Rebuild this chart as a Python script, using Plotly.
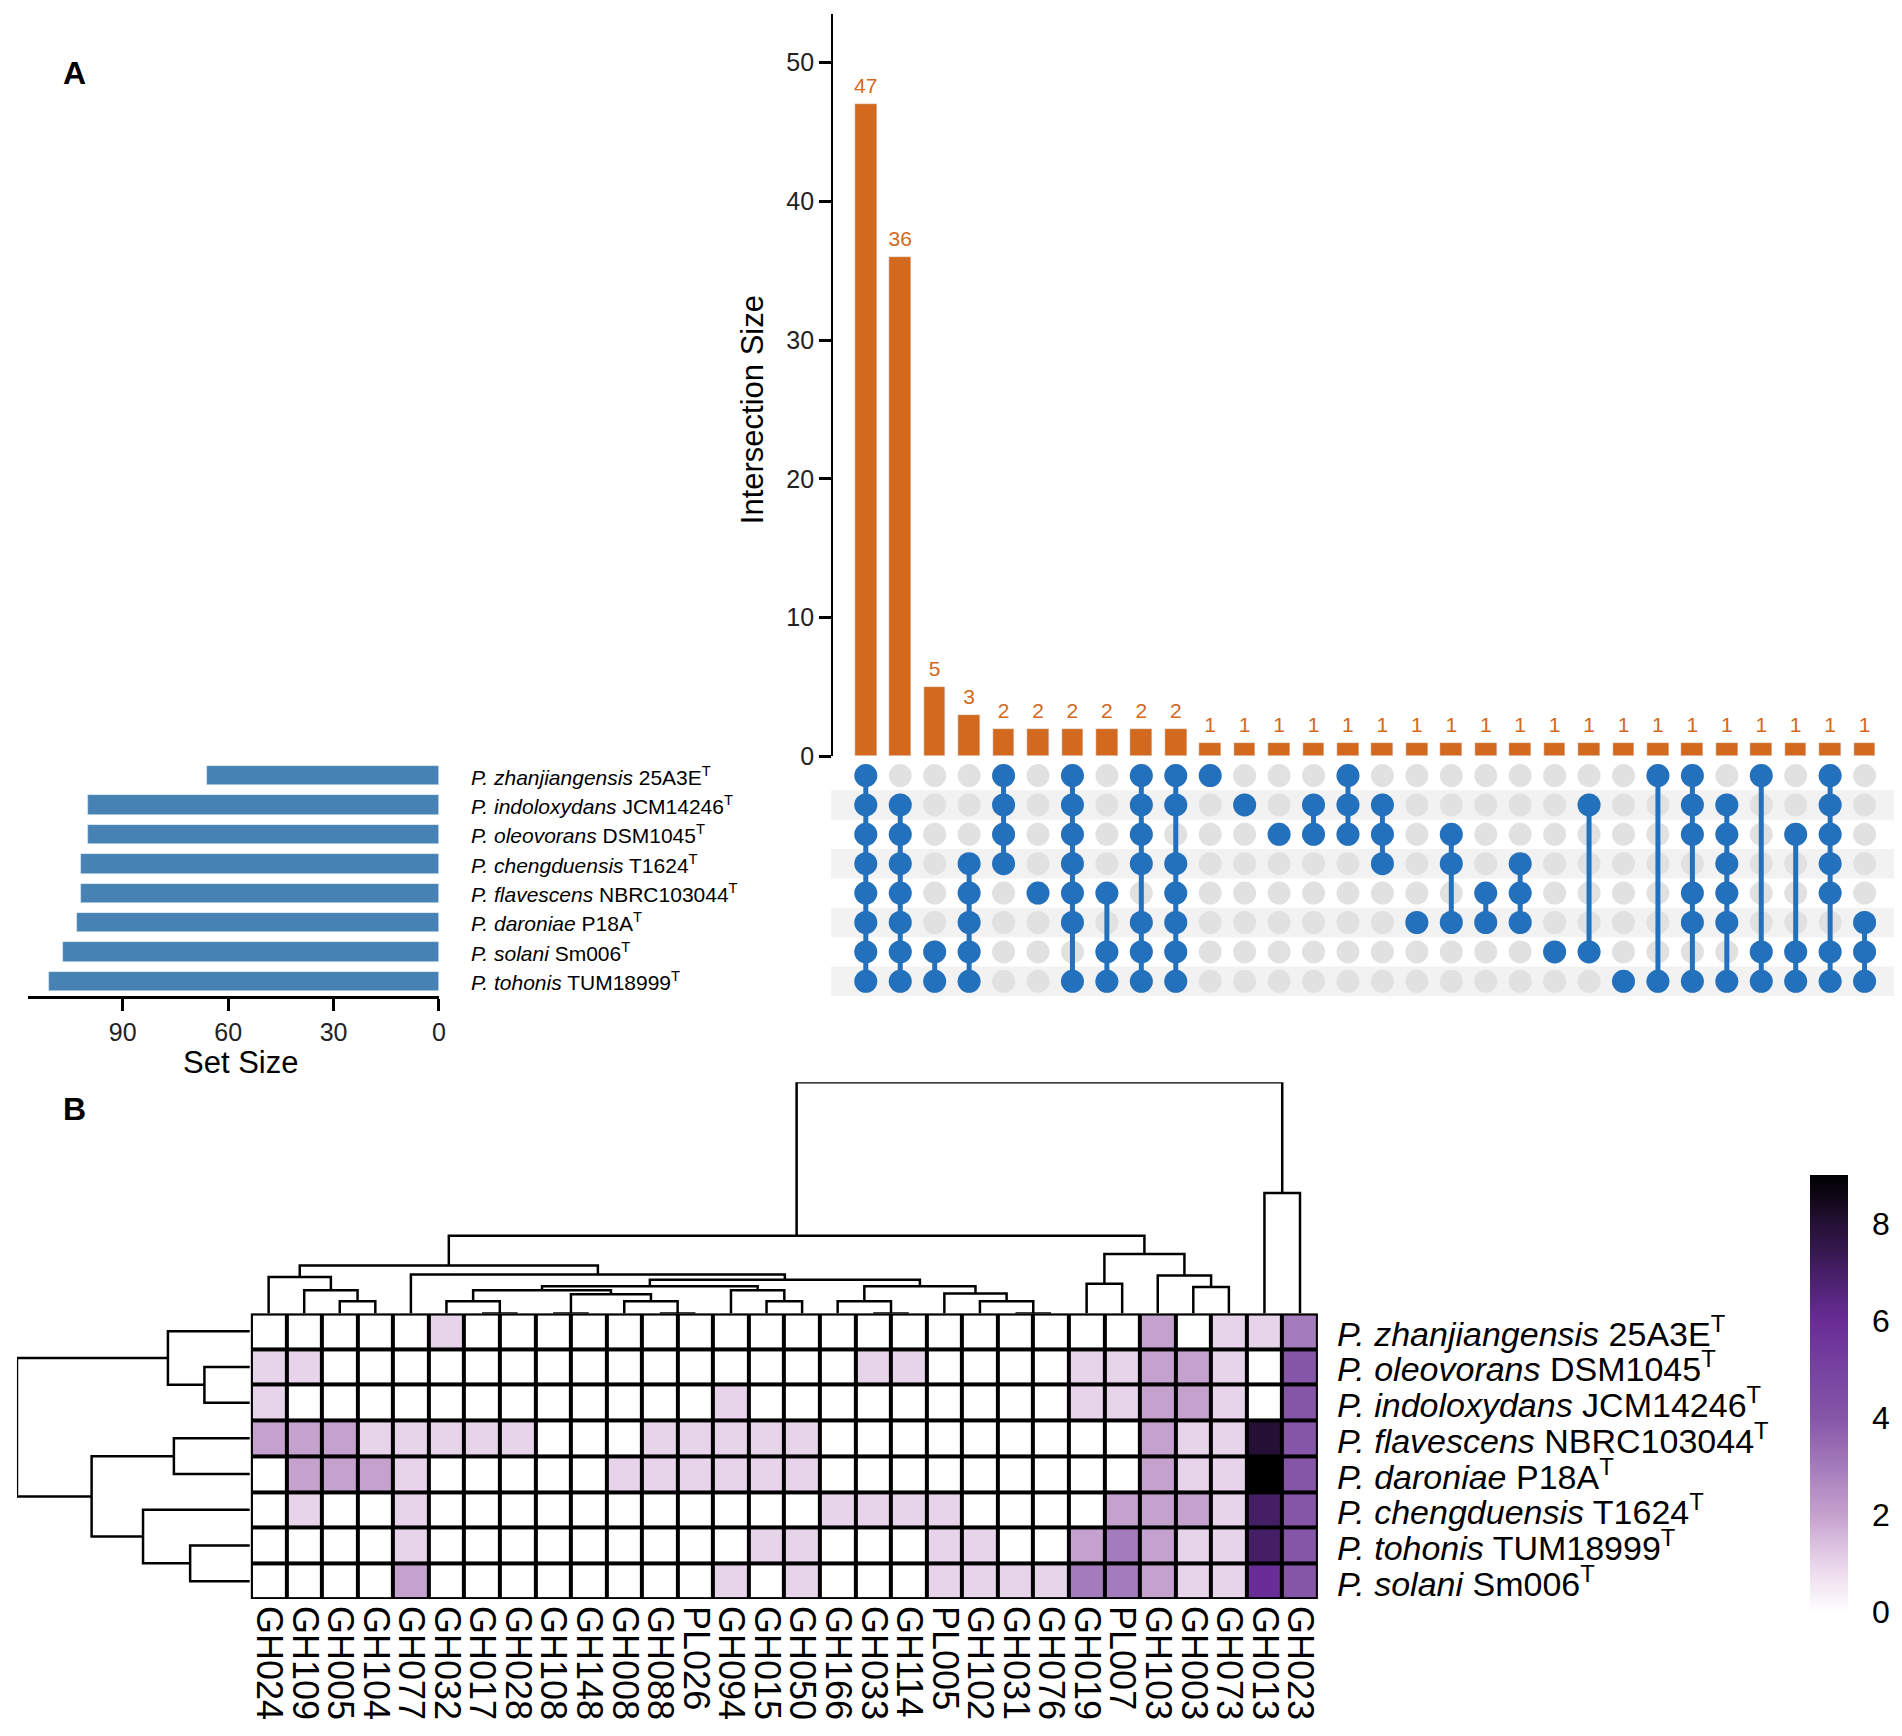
import plotly.graph_objects as go

W, H = 1902, 1736
FONT = "Liberation Sans, Arial, Helvetica, sans-serif"

def px(x):
    return x / W

def py(y):
    return 1 - y / H

# ---------------- data : panel A (UpSet) ----------------
strains = {
    "zhanjiangensis": "25A3E", "indoloxydans": "JCM14246", "oleovorans": "DSM1045",
    "chengduensis": "T1624", "flavescens": "NBRC103044", "daroniae": "P18A",
    "solani": "Sm006", "tohonis": "TUM18999",
}
upset_sets = ["zhanjiangensis", "indoloxydans", "oleovorans", "chengduensis",
              "flavescens", "daroniae", "solani", "tohonis"]
set_sizes = [66, 100, 100, 102, 102, 103, 107, 111]
intersection_sizes = [47, 36, 5, 3, 2, 2, 2, 2, 2, 2,
                      1, 1, 1, 1, 1, 1, 1, 1, 1, 1,
                      1, 1, 1, 1, 1, 1, 1, 1, 1, 1]
# membership pattern per intersection, rows in upset_sets order
intersection_members = [
    "11111111", "01111111", "00000011", "00011111", "11110000",
    "00001000", "11111101", "00001011", "11110111", "11011111",
    "10000000", "01000000", "00100000", "01100000", "11100000",
    "01110000", "00000100", "00110100", "00001100", "00011100",
    "00000010", "01000010", "00000001", "10000001", "11101101",
    "01111101", "10000011", "00100011", "11111011", "00000111",
]

# ---------------- data : panel B (heatmap) ----------------
heat_rows = ["zhanjiangensis", "oleovorans", "indoloxydans", "flavescens",
             "daroniae", "chengduensis", "tohonis", "solani"]
heat_cols = ["GH024", "GH109", "GH005", "GH104", "GH077", "GH032", "GH017", "GH028",
             "GH108", "GH148", "GH008", "GH088", "PL026", "GH094", "GH015", "GH050",
             "GH166", "GH033", "GH114", "PL005", "GH102", "GH031", "GH076", "GH019",
             "PL007", "GH103", "GH003", "GH073", "GH013", "GH023"]
# values per column, rows in heat_rows order
col_values = {
    "GH024": [0, 1, 1, 2, 0, 0, 0, 0], "GH109": [0, 1, 0, 2, 2, 1, 0, 0],
    "GH005": [0, 0, 0, 2, 2, 0, 0, 0], "GH104": [0, 0, 0, 1, 2, 0, 0, 0],
    "GH077": [0, 0, 0, 1, 1, 1, 1, 2], "GH032": [1, 0, 0, 1, 0, 0, 0, 0],
    "GH017": [0, 0, 0, 1, 0, 0, 0, 0], "GH028": [0, 0, 0, 1, 0, 0, 0, 0],
    "GH108": [0, 0, 0, 0, 0, 0, 0, 0], "GH148": [0, 0, 0, 0, 0, 0, 0, 0],
    "GH008": [0, 0, 0, 0, 1, 0, 0, 0], "GH088": [0, 0, 0, 1, 1, 0, 0, 0],
    "PL026": [0, 0, 0, 1, 1, 0, 0, 0], "GH094": [0, 0, 1, 1, 1, 0, 0, 1],
    "GH015": [0, 0, 0, 1, 1, 0, 1, 0], "GH050": [0, 0, 0, 1, 1, 0, 1, 1],
    "GH166": [0, 0, 0, 0, 0, 1, 0, 0], "GH033": [0, 1, 0, 0, 0, 1, 0, 0],
    "GH114": [0, 1, 0, 0, 0, 1, 0, 0], "PL005": [0, 0, 0, 0, 0, 1, 1, 1],
    "GH102": [0, 0, 0, 0, 0, 0, 1, 1], "GH031": [0, 0, 0, 0, 0, 0, 0, 1],
    "GH076": [0, 0, 0, 0, 0, 0, 0, 1], "GH019": [0, 1, 1, 0, 0, 0, 2, 3],
    "PL007": [0, 1, 1, 0, 0, 2, 3, 3], "GH103": [2, 2, 2, 2, 2, 2, 2, 2],
    "GH003": [0, 2, 2, 1, 1, 2, 1, 1], "GH073": [1, 1, 1, 1, 1, 1, 1, 1],
    "GH013": [1, 0, 0, 8, 9, 7, 7, 6], "GH023": [3, 4, 4, 4, 4, 4, 4, 4],
}
# dendrogram merges (a, b, height) ; "mK" refers to the K-th merge
col_merges = [
    ("GH017", "GH028", 0), ("GH108", "GH148", 0), ("GH088", "PL026", 0),
    ("GH033", "GH114", 0), ("GH031", "GH076", 0), ("GH005", "GH104", 37),
    ("GH032", "m0", 37), ("GH008", "m2", 37), ("GH015", "GH050", 37),
    ("GH166", "m3", 37), ("GH102", "m4", 37), ("m1", "m7", 58),
    ("PL005", "m10", 60), ("GH109", "m5", 70), ("m6", "m11", 70),
    ("GH094", "m8", 70), ("GH003", "GH073", 80), ("m14", "m15", 82),
    ("m9", "m12", 82), ("GH019", "PL007", 90), ("m17", "m18", 102),
    ("GH024", "m13", 110), ("GH103", "m16", 115), ("GH077", "m20", 118),
    ("m21", "m23", 145), ("m19", "m22", 180), ("m24", "m25", 235),
    ("GH013", "GH023", 365), ("m26", "m27", 700),
]
row_merges = [
    ("oleovorans", "indoloxydans", 137), ("zhanjiangensis", "m0", 247),
    ("flavescens", "daroniae", 229), ("tohonis", "solani", 180),
    ("chengduensis", "m3", 322), ("m2", "m4", 477), ("m1", "m5", 702),
]
color_ticks = [0, 2, 4, 6, 8]
z_max = 9

# ---------------- styling ----------------
BAR_ORANGE = "#D2691E"
DOT_BLUE = "#2370BC"
DOT_GREY = "#E1E1E1"
SET_BLUE = "#4682B4"
heat_scale = [
    [0.0, "#FFFFFF"], [1 / 9, "#E8D4EA"], [2 / 9, "#C5A1CD"], [3 / 9, "#A47BBB"],
    [4 / 9, "#8556A8"], [5 / 9, "#7642A0"], [6 / 9, "#6A2C96"], [7 / 9, "#451F66"],
    [8 / 9, "#241034"], [1.0, "#000000"],
]


def label_html(sp):
    return f"<i>P. {sp}</i> {strains[sp]}<sup>T</sup>"


def dendro_segments(leaves, merges):
    pos = {name: float(i) for i, name in enumerate(leaves)}
    hgt = {name: 0.0 for name in leaves}
    xs, ys = [], []
    for k, (a, b, h) in enumerate(merges):
        xa, xb = pos[a], pos[b]
        xs += [xa, xa, xb, xb, None]
        ys += [hgt[a], h, h, hgt[b], None]
        pos[f"m{k}"] = (xa + xb) / 2
        hgt[f"m{k}"] = h
    return xs, ys


fig = go.Figure()
shapes = []
annotations = []

n_int = len(intersection_sizes)
int_x = list(range(1, n_int + 1))
n_sets = len(upset_sets)

# --- intersection bars
fig.add_trace(go.Bar(x=int_x, y=intersection_sizes, marker_color=BAR_ORANGE,
                     width=0.63, xaxis="x", yaxis="y", hoverinfo="skip"))
fig.add_trace(go.Scatter(x=int_x, y=[v + 0.4 for v in intersection_sizes], mode="text",
                         text=[str(v) for v in intersection_sizes], textposition="top center",
                         textfont=dict(color=BAR_ORANGE, size=21, family=FONT),
                         xaxis="x", yaxis="y", cliponaxis=False, hoverinfo="skip"))

# --- matrix
for i in range(n_sets):
    if i % 2 == 1:
        shapes.append(dict(type="rect", xref="paper", yref="y2", x0=px(825), x1=px(1898),
                           y0=i - 0.5, y1=i + 0.5, fillcolor="#F2F2F2", line_width=0,
                           layer="below"))
gx, gy = [], []
bx, by = [], []
lx, ly = [], []
for c, pattern in enumerate(intersection_members):
    rows_in = [r for r, ch in enumerate(pattern) if ch == "1"]
    for r in range(n_sets):
        gx.append(c + 1)
        gy.append(r)
    for r in rows_in:
        bx.append(c + 1)
        by.append(r)
    if len(rows_in) > 1:
        lx += [c + 1, c + 1, None]
        ly += [min(rows_in), max(rows_in), None]
fig.add_trace(go.Scatter(x=gx, y=gy, mode="markers", xaxis="x2", yaxis="y2",
                         marker=dict(size=23, color=DOT_GREY), hoverinfo="skip", cliponaxis=False))
fig.add_trace(go.Scatter(x=lx, y=ly, mode="lines", xaxis="x2", yaxis="y2",
                         line=dict(color=DOT_BLUE, width=5), hoverinfo="skip"))
fig.add_trace(go.Scatter(x=bx, y=by, mode="markers", xaxis="x2", yaxis="y2",
                         marker=dict(size=23, color=DOT_BLUE), hoverinfo="skip", cliponaxis=False))

# --- set size bars
fig.add_trace(go.Bar(x=set_sizes, y=list(range(n_sets)), orientation="h", width=0.66,
                     marker_color=SET_BLUE, xaxis="x3", yaxis="y2", hoverinfo="skip"))
for i, sp in enumerate(upset_sets):
    annotations.append(dict(x=px(461), xref="paper", y=i, yref="y2", xanchor="left",
                            yanchor="middle", text=label_html(sp), showarrow=False,
                            font=dict(size=21, color="black", family=FONT)))

# --- heatmap
z = [[col_values[c][r] for c in heat_cols] for r in range(len(heat_rows))]
shapes.append(dict(type="rect", xref="x4", yref="y4", x0=-0.5, x1=len(heat_cols) - 0.5,
                   y0=-0.5, y1=len(heat_rows) - 0.5, fillcolor="black", line_width=0,
                   layer="below"))
fig.add_trace(go.Heatmap(z=z, x=list(range(len(heat_cols))), y=list(range(len(heat_rows))),
                         xaxis="x4", yaxis="y4", zmin=0, zmax=z_max, colorscale=heat_scale,
                         xgap=4, ygap=4, hoverinfo="skip",
                         colorbar=dict(x=px(1809), xanchor="left", xpad=0, ypad=0,
                                       y=py(1396.5), yanchor="middle", len=441 / H,
                                       lenmode="fraction", thickness=38,
                                       thicknessmode="pixels", outlinewidth=0,
                                       tickvals=color_ticks, ticks="outside", ticklen=18,
                                       tickcolor="white",
                                       tickfont=dict(size=32, color="black", family=FONT))))
shapes.append(dict(type="rect", xref="x4", yref="y4", x0=-0.5, x1=len(heat_cols) - 0.5,
                   y0=-0.5, y1=len(heat_rows) - 0.5, line=dict(color="black", width=3.5),
                   fillcolor="rgba(0,0,0,0)", layer="above"))
for i, sp in enumerate(heat_rows):
    annotations.append(dict(x=px(1331), xref="paper", y=i, yref="y4", xanchor="left",
                            yanchor="middle", text=label_html(sp), showarrow=False,
                            font=dict(size=34, color="black", family=FONT)))

# --- dendrograms
cxs, cys = dendro_segments(heat_cols, col_merges)
fig.add_trace(go.Scatter(x=cxs, y=cys, mode="lines", xaxis="x5", yaxis="y5",
                         line=dict(color="black", width=2.5), hoverinfo="skip", cliponaxis=False))
rxs, rys = dendro_segments(heat_rows, row_merges)
fig.add_trace(go.Scatter(x=rys, y=rxs, mode="lines", xaxis="x6", yaxis="y4",
                         line=dict(color="black", width=2.5), hoverinfo="skip", cliponaxis=False))

# --- panel letters and titles
def centered(x, y, text, size, angle=0):
    return dict(x=px(x), y=py(y), xref="paper", yref="paper", text=text, textangle=angle,
                xanchor="center", yanchor="middle", showarrow=False,
                font=dict(size=size, color="black", family=FONT))

annotations.append(centered(65, 66, "<b>A</b>", 32))
annotations.append(centered(65, 1110, "<b>B</b>", 32))
annotations.append(centered(746, 405, "Intersection Size", 31, -90))
annotations.append(centered(232, 1063, "Set Size", 31))

tickfont = dict(size=25, color="#222222", family=FONT)
hidden = dict(visible=False, showgrid=False, zeroline=False)
fig.update_layout(
    width=W, height=H, autosize=False, margin=dict(l=0, r=0, t=0, b=0),
    paper_bgcolor="white", plot_bgcolor="rgba(0,0,0,0)", showlegend=False,
    bargap=0,
    xaxis=dict(domain=[px(827), px(1898)], range=[0.05, 31.0], anchor="y", **hidden),
    yaxis=dict(domain=[py(754.5), py(6)], range=[0, 53.5], anchor="x", showline=True,
               linecolor="black", linewidth=2, ticks="outside", ticklen=12, tickwidth=2.5,
               tickcolor="black", tickvals=[0, 10, 20, 30, 40, 50], tickfont=tickfont,
               showgrid=False, zeroline=False),
    xaxis2=dict(domain=[px(827), px(1898)], range=[0.05, 31.0], anchor="y2", **hidden),
    yaxis2=dict(domain=[py(996), py(759)], range=[n_sets - 0.5, -0.5], anchor="x2", **hidden),
    xaxis3=dict(domain=[px(18), px(431)], range=[117, 0], anchor="y2", showline=True,
                linecolor="black", linewidth=2.5, ticks="outside", ticklen=12, tickwidth=2.5,
                tickcolor="black", tickvals=[0, 30, 60, 90], tickfont=tickfont,
                showgrid=False, zeroline=False),
    xaxis4=dict(domain=[px(242), px(1314)], range=[-0.5, len(heat_cols) - 0.5], anchor="y4",
                tickvals=list(range(len(heat_cols))), ticktext=heat_cols, tickangle=90,
                ticks="", ticklabelstandoff=6,
                tickfont=dict(size=36, color="black", family=FONT),
                showgrid=False, zeroline=False, showline=False),
    yaxis4=dict(domain=[py(1604), py(1316)], range=[len(heat_rows) - 0.5, -0.5],
                anchor="x4", **hidden),
    xaxis5=dict(domain=[px(242), px(1314)], range=[-0.5, len(heat_cols) - 0.5], anchor="y5",
                **hidden),
    yaxis5=dict(domain=[py(1316), py(1083)], range=[0, 700], anchor="x5", **hidden),
    xaxis6=dict(domain=[px(7), px(241)], range=[702, 0], anchor="y4", **hidden),
    shapes=shapes, annotations=annotations,
)

fig.write_html("out.html")
